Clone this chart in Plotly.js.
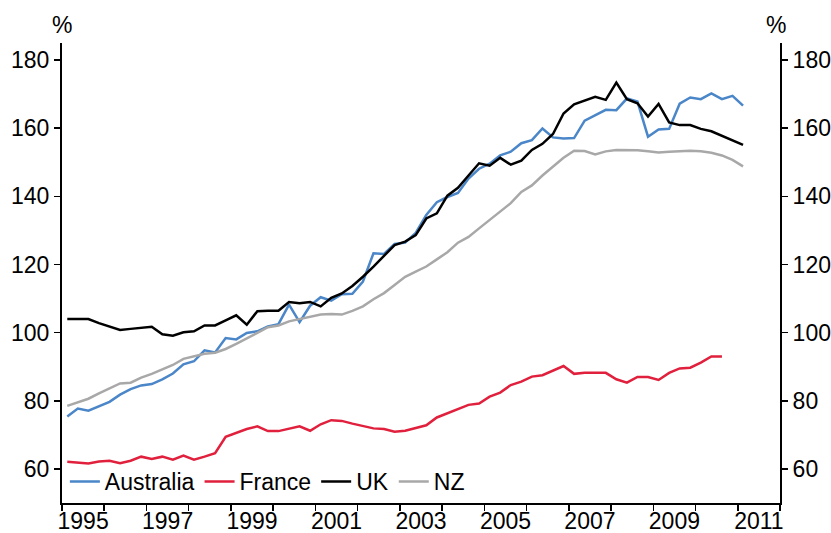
<!DOCTYPE html>
<html>
<head>
<meta charset="utf-8">
<script src="https://cdn.plot.ly/plotly-3.0.1.min.js"></script>
<style>html,body{margin:0;padding:0;background:#fff;}#chart{width:831px;height:533px;}</style>
</head>
<body>
<div id="chart"></div>
<script>
// Quarterly observations, 1995 Q1 onward
const years = [1995,1996,1997,1998,1999,2000,2001,2002,2003,2004,2005,2006,2007,2008,2009,2010,2011];
const quarters = [];
years.forEach(y => { for (let q = 1; q <= 4; q++) quarters.push(y + (q - 0.5) / 4); });

const australia = [75.4,77.7,77.1,78.5,79.7,81.8,83.4,84.5,84.9,86.3,88.0,90.7,91.6,94.8,94.2,98.4,98.0,99.9,100.4,101.8,
  102.5,108.2,103.1,107.9,110.4,109.4,111.3,111.4,115.0,123.3,123.1,126.0,126.4,129.3,134.5,138.3,139.8,141.0,145.2,148.1,
  149.6,152.0,153.1,155.6,156.5,159.9,157.3,157.0,157.1,162.2,163.9,165.4,165.3,168.7,167.8,157.5,159.6,159.8,167.2,169.0,
  168.5,170.2,168.5,169.5,166.6];
const france = [62.1,61.8,61.6,62.2,62.4,61.7,62.4,63.6,62.9,63.6,62.7,63.9,62.7,63.6,64.6,69.4,70.5,71.7,72.5,71.1,
  71.1,71.9,72.5,71.2,73.1,74.3,74.1,73.3,72.6,71.9,71.7,70.9,71.2,71.9,72.8,75.1,76.3,77.5,78.8,79.2,
  81.2,82.4,84.6,85.6,87.1,87.5,88.9,90.2,87.9,88.2,88.2,88.2,86.3,85.3,87.0,87.0,86.1,88.2,89.5,89.7,
  91.2,93.0,93.0];
const uk = [104.0,104.0,104.0,102.8,101.7,100.8,101.1,101.4,101.7,99.5,99.1,100.1,100.4,102.1,102.1,103.6,105.1,102.3,106.3,106.4,
  106.4,109.0,108.6,109.0,107.7,110.2,111.5,113.7,116.4,119.4,122.5,125.7,126.7,128.6,133.5,135.0,140.2,142.5,146.1,149.7,
  149.0,151.3,149.3,150.5,153.6,155.4,158.3,164.3,167.0,168.2,169.2,168.3,173.4,168.5,167.3,163.4,167.1,161.7,160.9,160.9,
  159.8,159.1,157.8,156.5,155.1];
const nz = [78.5,79.5,80.6,82.2,83.7,85.1,85.3,86.8,87.9,89.2,90.5,92.3,93.1,93.8,94.1,95.2,96.7,98.2,99.9,101.6,
  102.1,103.3,104.0,104.8,105.3,105.5,105.3,106.4,107.7,109.8,111.6,114.0,116.4,117.9,119.4,121.5,123.6,126.4,128.1,130.6,
  133.0,135.4,138.0,141.3,143.2,146.1,148.6,151.3,153.4,153.3,152.3,153.2,153.6,153.6,153.5,153.2,152.9,153.1,153.3,153.4,
  153.2,152.8,152.0,150.7,148.8];

const xTickLabels = ['1995','1997','1999','2001','2003','2005','2007','2009','2011'];
const yTicks = [60,80,100,120,140,160,180];

const colors = {Australia:'#4a86c8', France:'#e0203c', UK:'#000000', NZ:'#a8a8a8'};
const font = {family:'"Liberation Sans", Arial, sans-serif', size:23, color:'#000'};

function series(name, ys) {
  return {x: quarters.slice(0, ys.length), y: ys, name: name, type:'scatter', mode:'lines',
          line:{color:colors[name], width:2.5}, hoverinfo:'skip'};
}
const traces = [
  series('Australia', australia),
  series('France', france),
  series('UK', uk),
  series('NZ', nz),
  {x:[], y:[], yaxis:'y2', showlegend:false, type:'scatter', mode:'lines'}
];

const layout = {
  width:831, height:533,
  margin:{l:62, r:51, t:43, b:30, pad:0},
  paper_bgcolor:'#fff', plot_bgcolor:'#fff',
  font: font,
  showlegend:true,
  legend:{orientation:'h', x:0.004, xanchor:'left', y:0.0, yanchor:'bottom',
          bgcolor:'rgba(0,0,0,0)', font:font, tracegroupgap:0, itemwidth:30},
  xaxis:{range:[1995,2012], tickmode:'array',
         tickvals: xTickLabels.map(t => Number(t) + 0.5), ticktext: xTickLabels,
         ticks:'', ticklabelstandoff:-4, showgrid:false, zeroline:false, showline:true, linecolor:'#000', linewidth:2,
         tickfont:font, fixedrange:true,
         minor:{tickmode:'linear', tick0:1995, dtick:1, ticks:'outside', ticklen:6, tickwidth:1.5, tickcolor:'#000', showgrid:false}},
  yaxis:{range:[50,185], tickmode:'array', tickvals:yTicks, ticks:'outside', ticklen:6, tickwidth:1.5, tickcolor:'#000',
         showgrid:false, zeroline:false, showline:true, linecolor:'#000', linewidth:2, tickfont:font, fixedrange:true},
  yaxis2:{range:[50,185], overlaying:'y', side:'right', tickmode:'array', tickvals:yTicks, ticks:'outside', ticklen:6,
          tickwidth:1.5, tickcolor:'#000', showgrid:false, zeroline:false, showline:true, linecolor:'#000', linewidth:2,
          tickfont:font, fixedrange:true},
  annotations:[
    {text:'%', xref:'paper', yref:'paper', x:0, y:1.04, xanchor:'center', yanchor:'middle', showarrow:false, font:font},
    {text:'%', xref:'paper', yref:'paper', x:0.995, y:1.04, xanchor:'center', yanchor:'middle', showarrow:false, font:font}
  ]
};

Plotly.newPlot('chart', traces, layout, {displayModeBar:false, staticPlot:true});
</script>
</body>
</html>
